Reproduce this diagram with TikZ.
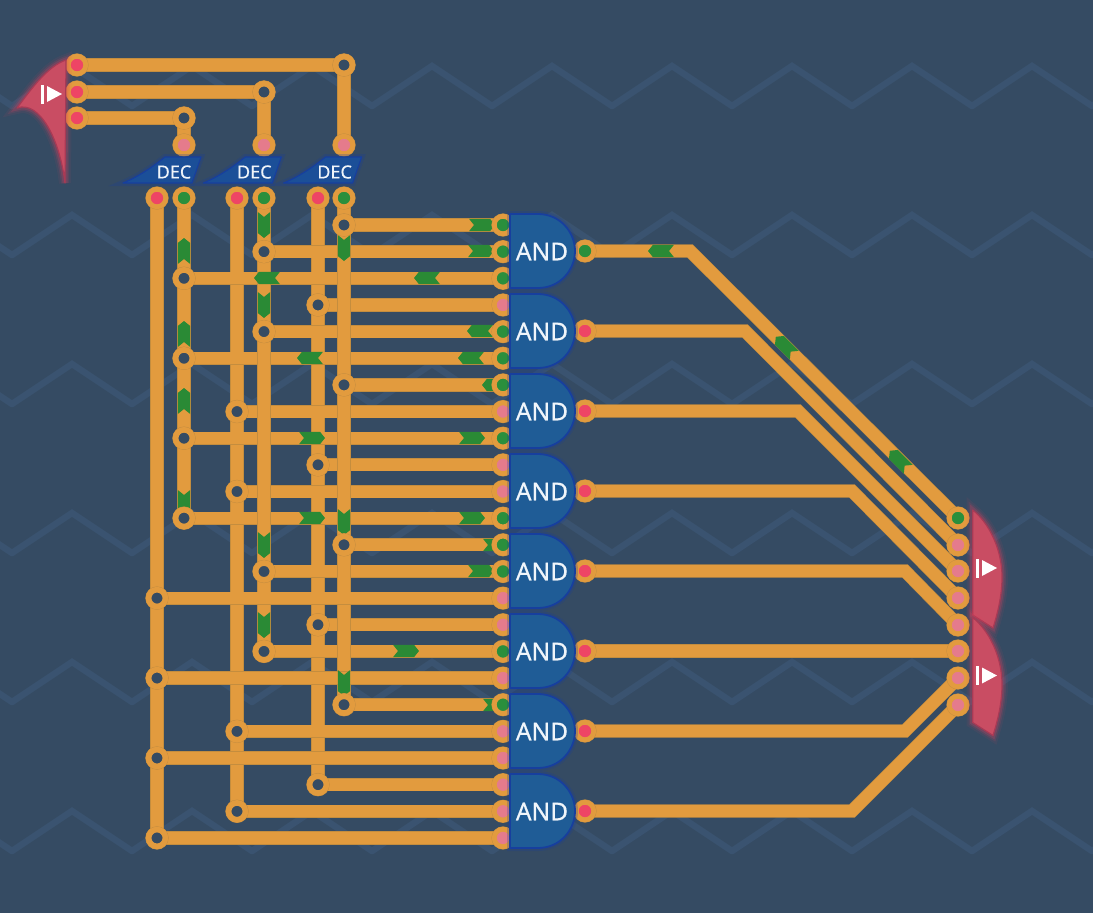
\documentclass[tikz,border=0pt]{standalone}
\usepackage{fontspec}
\setmainfont{Noto Sans}
\newfontfamily\gatefont[FakeBold=0.5]{Noto Sans}
\pgfdeclarelayer{wires}
\pgfsetlayers{wires,main}
\definecolor{boardbg}{HTML}{354B63}
\definecolor{zigcol}{HTML}{3A5370}
\definecolor{wirecol}{HTML}{E29B3E}
\definecolor{wireedge}{HTML}{C48D3E}
\definecolor{flowcol}{HTML}{2A8A35}
\definecolor{redpin}{HTML}{EE4565}
\definecolor{pinkpin}{HTML}{E57B8C}
\definecolor{greenpin}{HTML}{2A8F3C}
\definecolor{gatefill}{HTML}{1F5C96}
\definecolor{gateedge}{HTML}{173F9E}
\definecolor{decfill}{HTML}{1B4F98}
\definecolor{iofill}{HTML}{C94D63}
\definecolor{ioedge}{HTML}{A83A55}
\definecolor{ioglow}{HTML}{E8405C}
\definecolor{labelcol}{HTML}{F0F5FA}
\tikzset{
  wire/.style={draw=wireedge,line width=.6pt,double=wirecol,double distance=12pt},
  zig/.style={draw=zigcol,line width=6.5pt,line cap=round},
  port/.style={circle,inner sep=0pt,minimum size=17.5pt,line width=4.8pt,draw=wirecol,
    preaction={draw=wireedge,line width=5.6pt}},
  joint/.style={port,minimum size=16.8pt,line width=5.6pt,fill=boardbg,
    preaction={draw=wireedge,line width=6.4pt}},
  gate/.style={fill=gatefill,draw=gateedge,line width=1.8pt,line join=round,
    preaction={draw=gateedge,line width=6pt,draw opacity=.25}},
  iobox/.style={fill=iofill,draw=ioedge,line width=1.2pt,line join=round,
    preaction={draw=ioglow,line width=12pt,draw opacity=.07},
    preaction={draw=ioglow,line width=8pt,draw opacity=.12},
    preaction={draw=ioglow,line width=5pt,draw opacity=.2}},
  flow/.pic={\fill[flowcol] (-13,-6.2) -- (8,-6.2) -- (13,0) -- (8,6.2) -- (-13,6.2) -- (-8,0) -- cycle;},
  playicon/.pic={\fill[white] (0,-9.5) rectangle (3,9.5);
    \fill[white] (6,-8) -- (21,0) -- (6,8) -- cycle;}
}

\begin{document}
\begin{tikzpicture}[x=1pt,y=-1pt]
  \useasboundingbox (0,0) rectangle (1093,913);
  % gate inputs
  \foreach \c [count=\i] in {greenpin,greenpin,greenpin,pinkpin,greenpin,greenpin,greenpin,pinkpin,
      greenpin,pinkpin,pinkpin,greenpin,greenpin,greenpin,pinkpin,pinkpin,greenpin,pinkpin,greenpin,
      pinkpin,pinkpin,pinkpin,pinkpin,pinkpin}
    \node[port,fill=\c] (in\i) at (503,{198.35+26.65*\i}) {};
  % junctions
  \foreach \x [count=\i] in {344,264,184,318,264,184,344,237,184,318,237,184,344,264,157,318,264,157,
      344,237,157,318,237,157}
    \node[joint] (j\i) at (\x,{198.35+26.65*\i}) {};
  % decoder pins
  \foreach \n/\x/\c in {a0/157/redpin,a1/184/greenpin,b0/237/redpin,b1/264/greenpin,c0/318/redpin,c1/344/greenpin}
    \node[port,fill=\c] (\n) at (\x,198) {};
  \foreach \n/\x in {a/184,b/264,c/344}
    \node[port,fill=pinkpin] (dec\n) at (\x,145) {};
  % input side
  \foreach \n/\y in {a/118,b/92,c/65}
    \node[port,fill=redpin] (src\n) at (77,\y) {};
  \node[joint] (ta) at (184,118) {};
  \node[joint] (tb) at (264,92) {};
  \node[joint] (tc) at (344,65) {};
  % output pins
  \foreach \c/\y [count=\i] in {greenpin/518,pinkpin/545,pinkpin/571,pinkpin/598,pinkpin/625,pinkpin/651,pinkpin/678,pinkpin/705}
    \node[port,fill=\c] (tgt\i) at (958,\y) {};
  \foreach \x/\y/\c [count=\i] in {690/251/greenpin,745/331/redpin,798/411/redpin,852/491/redpin,
      905/571/redpin,900/651/redpin,905/731/redpin,852/811/redpin} {
    \node[port,fill=\c] (gout\i) at (585,\y) {};
    \coordinate (bend\i) at (\x,\y);
  }
  \begin{pgfonlayer}{wires}
    \fill[boardbg] (0,0) rectangle (1093,913);
    % background
    \foreach \y in {66,215,364,513,662,811}
      \foreach \x in {-48,72,192,312,432,552,672,792,912,1032,1152}
        \draw[zig] ({\x-60},{\y+40}) -- (\x,\y) -- ({\x+60},{\y+40});
    % line
    \draw[wire] (srca.center) -- (ta.center);
    \draw[wire] (ta.center) -- (deca.center);
    \draw[wire] (srcb.center) -- (tb.center);
    \draw[wire] (tb.center) -- (decb.center);
    \draw[wire] (srcc.center) -- (tc.center);
    \draw[wire] (tc.center) -- (decc.center);
    \draw[wire] (a0.center) -- (j24.center);
    \draw[wire] (b0.center) -- (j23.center);
    \draw[wire] (c0.center) -- (j22.center);
    \foreach \i in {1,...,14,16,17,19,20,22,23}
      \draw[wire] (j\i.center) -- (in\i.center);
    \draw[wire] (a1.center) -- (j12.center);
    \draw[wire] (b1.center) -- (j17.center);
    \draw[wire] (c1.center) -- (j19.center);
    \foreach \i in {15,18,21,24}
      \draw[wire] (j\i.center) -- (in\i.center);
    \foreach \i in {8,7,...,1}
      \draw[wire] (gout\i.center) -- (bend\i) -- (tgt\i.center);
    % pulses
    \foreach \x/\y/\r in {482/225/0,481/251/0,267/278/180,427/278/180,480/331/180,310/358/180,471/358/180,
        495/385/180,312/438/0,472/438/0,312/518/0,472/518/0,496/545/0,481/571/0,406/651/0,496/705/0,
        661/251/180,184/251/90,184/334/90,184/401/90,184/503/-90,264/225/-90,264/305/-90,264/545/-90,
        264/625/-90,344/248/-90,344/522/-90,344/683/-90,785/346/135,899/460/135}
      \pic[rotate=\r] at (\x,\y) {flow};
  \end{pgfonlayer}
  % decoders
  \foreach \n/\dx in {a/0,b/80.3,c/160.6} {
    \draw[gate,fill=decfill,line width=1.2pt,shift={(\dx,0)}] (123,183) .. controls (140,176) and (155,165) .. (165,157)
      -- (201,157) -- (192,183) -- cycle;
    \node[text=labelcol,font=\gatefont\fontsize{18}{19}\selectfont] (lab\n) at ({174+\dx},172) {DEC};
  }
  % gates
  \foreach \y [count=\i] in {251,331,411,491,571,651,731,811} {
    \draw[gate,shift={(0,\y)}] (510,-37) -- (538,-37) .. controls (560,-37) and (575,-19) .. (575,0)
      .. controls (575,19) and (560,37) .. (538,37) -- (510,37) -- cycle;
    \node[text=labelcol,font=\gatefont\fontsize{24.5}{26}\selectfont] (and\i) at (542,{\y+.5}) {AND};
  }
  % ends
  \draw[iobox] (66,60) .. controls (48,66) and (32,88) .. (17,108) .. controls (40,100) and (60,140) .. (65,183) -- cycle;
  \pic at (41,94) {playicon};
  \foreach \s in {0,107.5} {
    \draw[iobox,shift={(0,\s)}] (972.7,510) .. controls (988,522) and (1002,548) .. (1002,577)
      .. controls (1002,595) and (998,612) .. (993,628) -- (972.7,615) -- cycle;
    \pic at (976,{568+\s}) {playicon};
  }
\end{tikzpicture}
\end{document}
